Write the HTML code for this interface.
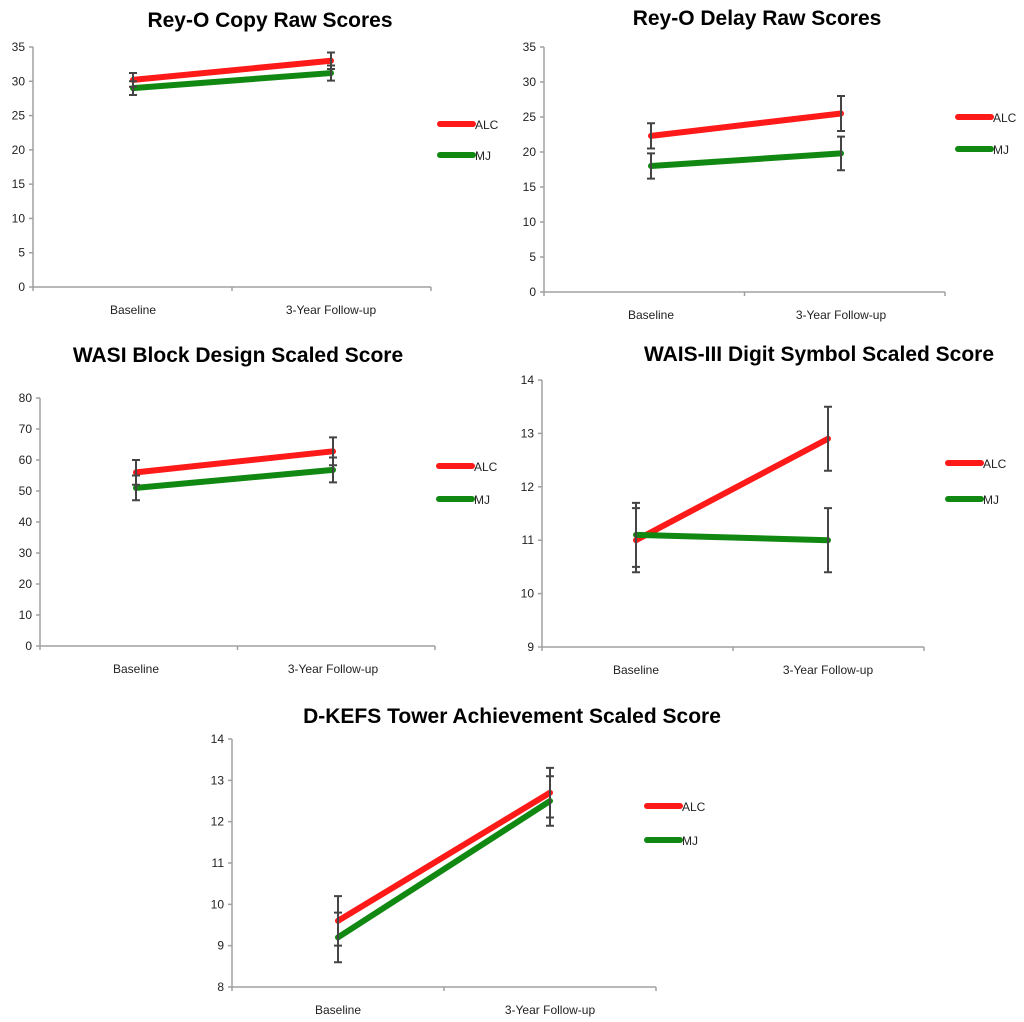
<!DOCTYPE html>
<html><head><meta charset="utf-8"><style>
html,body{margin:0;padding:0;background:#fff;}
svg{display:block;font-family:"Liberation Sans",sans-serif;}
</style></head><body>
<svg id="root" width="1024" height="1022" viewBox="0 0 1024 1022"></svg>
<script>
const categories = ["Baseline", "3-Year Follow-up"];
const seriesNames = ["ALC", "MJ"];
const copyALC = [30.2, 33.0], copyMJ = [29.0, 31.2];
const copyErrALC = [1.0, 1.2], copyErrMJ = [1.0, 1.1];
const copyTicks = [0, 5, 10, 15, 20, 25, 30, 35];
const delayALC = [22.3, 25.5], delayMJ = [18.0, 19.8];
const delayErrALC = [1.8, 2.5], delayErrMJ = [1.8, 2.4];
const delayTicks = [0, 5, 10, 15, 20, 25, 30, 35];
const blockALC = [56.0, 62.8], blockMJ = [51.0, 56.8];
const blockErrALC = [4.0, 4.5], blockErrMJ = [4.0, 4.0];
const blockTicks = [0, 10, 20, 30, 40, 50, 60, 70, 80];
const digitALC = [11.0, 12.9], digitMJ = [11.1, 11.0];
const digitErrALC = [0.6, 0.6], digitErrMJ = [0.6, 0.6];
const digitTicks = [9, 10, 11, 12, 13, 14];
const towerALC = [9.6, 12.7], towerMJ = [9.2, 12.5];
const towerErrALC = [0.6, 0.6], towerErrMJ = [0.6, 0.6];
const towerTicks = [8, 9, 10, 11, 12, 13, 14];

const NS = "http://www.w3.org/2000/svg";
const root = document.getElementById("root");
function mk(tag, attrs, parent, text){
  const e = document.createElementNS(NS, tag);
  for (const k in attrs) e.setAttribute(k, attrs[k]);
  if (text !== undefined) e.textContent = text;
  parent.appendChild(e); return e;
}
function chart(o){
  const g = mk("g", {}, root);
  
  
  const lo = o.ticks[0], hi = o.ticks[o.ticks.length-1];
  const y = v => o.bottom - (v-lo)/(hi-lo)*(o.bottom-o.top);
  const xs = [o.x0, o.x1];
  const t = mk("text", {x:o.tx, y:o.ty, "text-anchor":"middle", "font-size":21, "font-weight":"bold", fill:"#000"}, g, o.title);
  
  
  const ax = mk("path", {d:`M${o.ax},${o.top}V${o.bottom}H${o.axEnd}`, stroke:"#a0a0a0", "stroke-width":1.5, fill:"none"}, g);
  
  
  o.ticks.forEach(v=>{
    mk("line",{x1:o.ax-4,x2:o.ax,y1:y(v),y2:y(v),stroke:"#a0a0a0","stroke-width":1.5},g);
    const tl = mk("text",{x:o.ax-8,y:y(v)+4,"text-anchor":"end","font-size":12,fill:"#222"},g,String(v));
    
    
  });
  const mid = (o.ax+o.axEnd)/2;
  [o.ax, mid, o.axEnd].forEach(x=>mk("line",{x1:x,x2:x,y1:o.bottom,y2:o.bottom+4,stroke:"#a0a0a0","stroke-width":1.5},g));
  categories.forEach((c,i)=>{
    const cl = mk("text",{x:xs[i],y:o.bottom+27,"text-anchor":"middle","font-size":12,fill:"#222"},g,c);
    
    
  });
  const series = [[o.alc,o.ea,"#ff1a1a"],[o.mj,o.em,"#118811"]];
  series.forEach(([vals,errs,col],si)=>{
    const ln = mk("polyline",{points:vals.map((v,i)=>xs[i]+","+y(v)).join(" "),stroke:col,"stroke-width":6,fill:"none","stroke-linecap":"round"},g);
    
    
  });
  series.forEach(([vals,errs,col],si)=>{
    vals.forEach((v,i)=>{
      const a=y(v+errs[i]), b=y(v-errs[i]), x=xs[i];
      const eb = mk("path",{d:`M${x},${a}V${b}M${x-4},${a}H${x+4}M${x-4},${b}H${x+4}`,stroke:"#444","stroke-width":2,fill:"none"},g);
      
      
    });
  });
  series.forEach(([v,e,col],si)=>{
    const ly = o.ly[si];
    const lg = mk("g",{},g);
    
    
    mk("line",{x1:o.lx,x2:o.lx+33,y1:ly,y2:ly,stroke:col,"stroke-width":6,"stroke-linecap":"round"},lg);
    mk("text",{x:o.lx+35,y:ly+5,"font-size":12,fill:"#222"},lg,seriesNames[si]);
  });
}
chart({name:"rey-o-copy-chart",title:"Rey-O Copy Raw Scores",tx:270,ty:27,ax:33,axEnd:431,top:47,bottom:287,x0:133,x1:331,ticks:copyTicks,alc:copyALC,mj:copyMJ,ea:copyErrALC,em:copyErrMJ,lx:440,ly:[124,155]});
chart({name:"rey-o-delay-chart",title:"Rey-O Delay Raw Scores",tx:757,ty:25,ax:544,axEnd:945,top:47,bottom:292,x0:651,x1:841,ticks:delayTicks,alc:delayALC,mj:delayMJ,ea:delayErrALC,em:delayErrMJ,lx:958,ly:[117,149]});
chart({name:"wasi-block-design-chart",title:"WASI Block Design Scaled Score",tx:238,ty:362,ax:40,axEnd:435,top:398,bottom:646,x0:136,x1:333,ticks:blockTicks,alc:blockALC,mj:blockMJ,ea:blockErrALC,em:blockErrMJ,lx:439,ly:[466,499]});
chart({name:"wais-digit-symbol-chart",title:"WAIS-III Digit Symbol Scaled Score",tx:819,ty:361,ax:542,axEnd:924,top:380,bottom:647,x0:636,x1:828,ticks:digitTicks,alc:digitALC,mj:digitMJ,ea:digitErrALC,em:digitErrMJ,lx:948,ly:[463,499]});
chart({name:"dkefs-tower-chart",title:"D-KEFS Tower Achievement Scaled Score",tx:512,ty:723,ax:232,axEnd:656,top:739,bottom:987,x0:338,x1:550,ticks:towerTicks,alc:towerALC,mj:towerMJ,ea:towerErrALC,em:towerErrMJ,lx:647,ly:[806,840]});
</script>
</body></html>
